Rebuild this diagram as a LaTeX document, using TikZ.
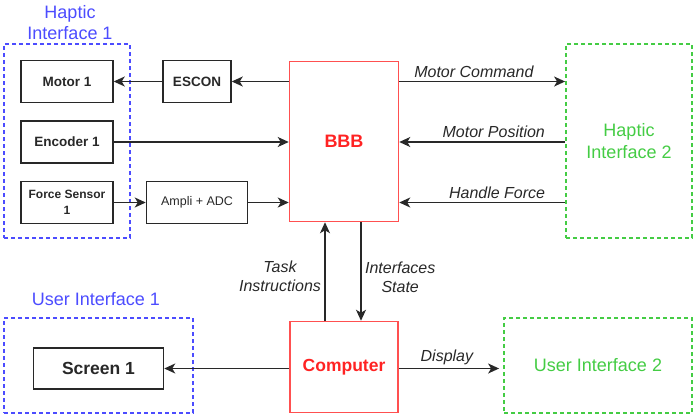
\documentclass[tikz,border=0pt]{standalone}
\usepackage{fontspec}
\setmainfont{Liberation Sans}
\usetikzlibrary{arrows.meta,positioning}
\definecolor{hblue}{RGB}{76,76,255}
\definecolor{hgreen}{RGB}{68,204,68}
\definecolor{hred}{RGB}{255,80,80}
\definecolor{hredtext}{RGB}{255,35,35}
\definecolor{ink}{RGB}{40,40,40}
\newcommand{\fsz}[2]{\fontsize{#1}{#2}\selectfont}

\begin{document}
\begin{tikzpicture}[>={Stealth[length=11pt,width=10pt,inset=3pt]},x=1pt,y=-1pt,node distance=17pt]
\tikzstyle{box}=[rectangle,draw=ink,text=ink,line width=1.5pt,align=center,font=\bfseries\fsz{13.5}{16},minimum width=92pt,minimum height=42pt]
\tikzstyle{hub}=[rectangle,draw=hred,text=hredtext,line width=1.5pt,align=center,font=\bfseries\fsz{18}{22}]
\tikzstyle{group}=[rectangle,line width=1.8pt,dash pattern=on 4pt off 3pt,align=center,font=\fsz{18}{22}]
\tikzstyle{title}=[align=center,font=\fsz{18}{21},text=hblue]
\tikzstyle{lbl}=[align=center,font=\itshape\fsz{16}{19},text=ink]
\tikzstyle{wire}=[draw=ink,line width=1.5pt,->]
\useasboundingbox (0,0) rectangle (697,416);

% haptic interface 1
\node[group,draw=hblue,minimum width=126pt,minimum height=194pt] (hi1) at (67,141) {};
\node[title] (hi1t) at (70,23) {Haptic\\Interface 1};
\node[box] (mot1) at (67,81.5) {Motor 1};
\node[box,below=of mot1] (enc1) {Encoder 1};
\node[box,below=of enc1,font=\bfseries\fsz{12}{16}] (fs1) {Force Sensor\\1};
\node[box,minimum width=68pt] (escon) at (197,81.5) {ESCON};
\node[box,minimum width=101pt,font=\fsz{12.5}{15}] (adc) at (escon |- fs1) {Ampli + ADC};

% controllers
\node[hub,minimum width=109pt,minimum height=160pt] (bbb) at (344,141.5) {BBB};
\node[hub,minimum width=108pt,minimum height=91pt,font=\bfseries\fsz{17.5}{21}] (comp) at (344,367) {Computer};

% haptic interface 2
\node[group,draw=hgreen,text=hgreen,minimum width=126pt,minimum height=194pt] (hi2) at (629,141) {Haptic\\Interface 2};

% user interfaces
\node[group,draw=hblue,minimum width=189pt,minimum height=95pt] (ui1) at (98.5,365.5) {};
\node[title] (ui1t) at (96,299) {User Interface 1};
\node[box,minimum width=130pt,minimum height=41pt,font=\bfseries\fsz{17.5}{21}] (scr) at (98.5,368.5) {Screen 1};
\node[group,draw=hgreen,text=hgreen,minimum width=188pt,minimum height=95pt] (ui2) at (598,365.5) {User Interface 2};

% connections
\draw[wire] (bbb.west |- escon.east) -- (escon.east);
\draw[wire] (escon.west) -- (mot1.east);
\draw[wire] (enc1.east) -- (enc1.east -| bbb.west);
\draw[wire] (fs1.east) -- (adc.west);
\draw[wire] (adc.east) -- (adc.east -| bbb.west);
\draw[wire] (bbb.east |- mot1.east) -- node[lbl,above,pos=0.45] (mc) {Motor Command} (hi2.west |- mot1.east);
\draw[wire] (hi2.west |- enc1.east) -- node[lbl,above,pos=0.43] (mp) {Motor Position} (bbb.east |- enc1.east);
\draw[wire] (hi2.west |- fs1.east) -- node[lbl,above,pos=0.41] (hf) {Handle Force} (bbb.east |- fs1.east);
\draw[wire] ([xshift=-19pt]comp.north) -- node[lbl,left,pos=0.45] (ti) {Task\\Instructions} ([xshift=-19pt]bbb.south);
\draw[wire] ([xshift=17pt]bbb.south) -- node[lbl,right,pos=0.56] (ist) {Interfaces\\State} ([xshift=17pt]comp.north);
\draw[wire] (scr.east -| comp.west) -- (scr.east);
\draw[wire] (scr.east -| comp.east) -- node[lbl,above,pos=0.48] (dsp) {Display} ([xshift=-4pt]scr.east -| ui2.west);
\end{tikzpicture}
\end{document}
